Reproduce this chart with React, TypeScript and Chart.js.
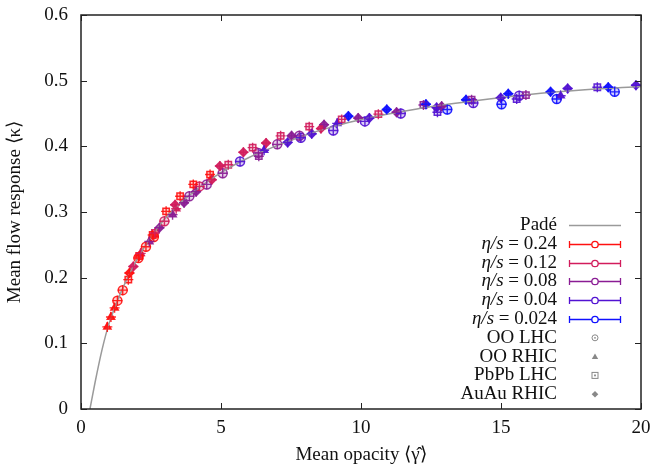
import React, { useEffect, useRef } from "react";
import { Chart, registerables } from "chart.js";

Chart.register(...registerables);

// Padé curve
const padeG = [0.32, 0.5, 0.75, 1.0, 1.5, 2.0, 2.5, 3.0, 3.5, 4.0, 5.0, 6.0, 7.0, 8.0, 9.0, 10.0, 12.0, 14.0, 16.0, 18.0, 20.0];
const padeK = [0.0, 0.04, 0.09, 0.13, 0.185, 0.228, 0.262, 0.29, 0.312, 0.33, 0.36, 0.383, 0.401, 0.417, 0.43, 0.441, 0.457, 0.469, 0.479, 0.486, 0.491];

// systems: C = OO LHC, T = OO RHIC, S = PbPb LHC, D = AuAu RHIC
const g24 = [0.94, 1.07, 1.2, 1.3, 1.49, 1.69, 1.73, 2.05, 2.08, 2.32, 2.56, 2.6, 3.04, 3.54, 4.01, 4.61];
const k24 = [0.125, 0.14, 0.154, 0.165, 0.181, 0.197, 0.207, 0.23, 0.233, 0.247, 0.265, 0.262, 0.301, 0.324, 0.342, 0.357];
const s24 = ["T", "T", "T", "C", "C", "S", "D", "C", "S", "C", "S", "C", "S", "S", "S", "S"];

const g12 = [1.87, 2.13, 2.64, 2.98, 3.36, 3.4, 4.23, 4.67, 4.96, 5.26, 5.8, 6.13, 6.61, 7.13, 8.15, 8.57, 9.31, 10.62];
const k12 = [0.217, 0.237, 0.268, 0.286, 0.311, 0.305, 0.339, 0.349, 0.37, 0.372, 0.391, 0.398, 0.405, 0.416, 0.43, 0.427, 0.441, 0.449];
const s12 = ["D", "T", "S", "C", "D", "T", "C", "D", "D", "S", "D", "S", "D", "S", "S", "D", "S", "S"];

const g08 = [2.44, 2.8, 3.27, 3.68, 3.87, 4.11, 4.49, 5.06, 6.33, 6.35, 7.01, 7.52, 7.8, 8.68, 9.9, 11.27, 12.23, 12.88, 13.95, 15.89];
const k08 = [0.255, 0.276, 0.296, 0.314, 0.324, 0.331, 0.342, 0.359, 0.39, 0.385, 0.403, 0.416, 0.416, 0.433, 0.443, 0.452, 0.463, 0.461, 0.471, 0.478];
const s08 = ["T", "D", "T", "D", "C", "D", "C", "C", "C", "S", "C", "D", "C", "D", "D", "D", "S", "D", "S", "S"];

const g04 = [5.68, 6.54, 7.38, 7.85, 8.24, 9.01, 9.15, 10.14, 10.3, 11.42, 12.7, 12.73, 14.01, 14.99, 15.56, 15.65, 17.13, 17.38, 18.44, 19.82];
const k04 = [0.377, 0.394, 0.406, 0.413, 0.419, 0.424, 0.435, 0.438, 0.443, 0.45, 0.459, 0.452, 0.466, 0.474, 0.472, 0.477, 0.477, 0.488, 0.49, 0.493];
const s04 = ["C", "T", "D", "C", "D", "C", "T", "C", "D", "C", "D", "S", "C", "D", "S", "C", "T", "D", "S", "D"];

const g024 = [9.55, 10.92, 12.32, 13.08, 13.75, 15.02, 15.26, 16.77, 16.99, 18.83, 19.06];
const k024 = [0.446, 0.456, 0.464, 0.456, 0.471, 0.464, 0.48, 0.483, 0.472, 0.49, 0.483];
const s024 = ["D", "D", "D", "C", "D", "C", "D", "D", "C", "D", "C"];

const etaLabels = ["0.24", "0.12", "0.08", "0.04", "0.024"];
const etaColors = ["#ff1010", "#d21c5c", "#8a1c94", "#5212d2", "#1010ff"];
const systemLabels = ["OO LHC", "OO RHIC", "PbPb LHC", "AuAu RHIC"];
const systemCodes = ["C", "T", "S", "D"];

const xTicks = [0, 5, 10, 15, 20];
const yTicks = [0, 0.1, 0.2, 0.3, 0.4, 0.5, 0.6];

const FONT = "Liberation Serif";
const FS = 19;

const styleOf: Record<string, string> = { C: "circle", T: "triangle", S: "rect", D: "rectRot" };

function alpha(hex: string, a: number) {
  const r = parseInt(hex.slice(1, 3), 16);
  const g = parseInt(hex.slice(3, 5), 16);
  const b = parseInt(hex.slice(5, 7), 16);
  return `rgba(${r},${g},${b},${a})`;
}

const frameAndLegend = {
  id: "frameAndLegend",
  afterDatasetsDraw(chart: any) {
    const { ctx } = chart;
    chart.data.datasets.forEach((ds: any, i: number) => {
      if (!ds.isPoints) return;
      const meta = chart.getDatasetMeta(i);
      ctx.save();
      ctx.strokeStyle = ds.borderColor;
      ctx.lineWidth = 1.4;
      meta.data.forEach((p: any) => {
        ctx.beginPath();
        ctx.moveTo(p.x - 5, p.y);
        ctx.lineTo(p.x + 5, p.y);
        ctx.moveTo(p.x, p.y - 5);
        ctx.lineTo(p.x, p.y + 5);
        ctx.stroke();
      });
      ctx.restore();
    });
  },
  afterDraw(chart: any) {
    const { ctx, chartArea: a, scales } = chart;
    ctx.save();
    ctx.strokeStyle = "#222";
    ctx.lineWidth = 1.5;
    ctx.strokeRect(a.left, a.top, a.right - a.left, a.bottom - a.top);
    ctx.lineWidth = 1;
    ctx.beginPath();
    xTicks.forEach((v) => {
      const x = Math.round(scales.x.getPixelForValue(v)) + 0.5;
      ctx.moveTo(x, a.bottom);
      ctx.lineTo(x, a.bottom - 6);
      ctx.moveTo(x, a.top);
      ctx.lineTo(x, a.top + 6);
    });
    yTicks.forEach((v) => {
      const y = Math.round(scales.y.getPixelForValue(v)) + 0.5;
      ctx.moveTo(a.left, y);
      ctx.lineTo(a.left + 6, y);
      ctx.moveTo(a.right, y);
      ctx.lineTo(a.right - 6, y);
    });
    ctx.stroke();

    // legend
    const tx = 557;
    const y0 = 225;
    const step = 18.8;
    const sx = 595;
    ctx.fillStyle = "#111";
    ctx.textBaseline = "middle";
    ctx.textAlign = "right";
    ctx.font = `${FS}px "${FONT}"`;
    ctx.fillText("Padé", tx, y0);
    ctx.strokeStyle = "#9a9a9a";
    ctx.lineWidth = 1.5;
    ctx.beginPath();
    ctx.moveTo(569, y0 + 0.5);
    ctx.lineTo(621, y0 + 0.5);
    ctx.stroke();
    etaLabels.forEach((lab, i) => {
      const y = y0 + step * (i + 1);
      ctx.font = `${FS}px "${FONT}"`;
      const rest = ` = ${lab}`;
      const w = ctx.measureText(rest).width;
      ctx.fillStyle = "#111";
      ctx.fillText(rest, tx, y);
      ctx.font = `italic ${FS}px "${FONT}"`;
      ctx.fillText("η/s", tx - w, y);
      const c = etaColors[i];
      ctx.strokeStyle = c;
      ctx.lineWidth = 1.3;
      const yy = Math.round(y) + 0.5;
      ctx.beginPath();
      ctx.moveTo(569, yy);
      ctx.lineTo(621, yy);
      ctx.moveTo(569.5, yy - 3.5);
      ctx.lineTo(569.5, yy + 3.5);
      ctx.moveTo(620.5, yy - 3.5);
      ctx.lineTo(620.5, yy + 3.5);
      ctx.stroke();
      ctx.beginPath();
      ctx.arc(sx, yy, 3.2, 0, Math.PI * 2);
      ctx.fillStyle = "#fff";
      ctx.fill();
      ctx.stroke();
    });
    systemLabels.forEach((lab, i) => {
      const y = y0 + step * (i + 6);
      ctx.font = `${FS}px "${FONT}"`;
      ctx.fillStyle = "#111";
      ctx.fillText(lab, tx, y);
      const code = systemCodes[i];
      ctx.strokeStyle = "#888";
      ctx.fillStyle = "#888";
      ctx.lineWidth = 1;
      if (code === "C") {
        ctx.beginPath();
        ctx.arc(sx, y, 3, 0, Math.PI * 2);
        ctx.stroke();
        ctx.beginPath();
        ctx.arc(sx, y, 0.9, 0, Math.PI * 2);
        ctx.fill();
      } else if (code === "T") {
        ctx.beginPath();
        ctx.moveTo(sx, y - 3);
        ctx.lineTo(sx + 3.2, y + 2.5);
        ctx.lineTo(sx - 3.2, y + 2.5);
        ctx.closePath();
        ctx.fill();
      } else if (code === "S") {
        ctx.strokeRect(sx - 3, y - 3, 6, 6);
        ctx.fillRect(sx - 0.9, y - 0.9, 1.8, 1.8);
      } else {
        ctx.beginPath();
        ctx.moveTo(sx, y - 3.3);
        ctx.lineTo(sx + 3.3, y);
        ctx.lineTo(sx, y + 3.3);
        ctx.lineTo(sx - 3.3, y);
        ctx.closePath();
        ctx.fill();
      }
    });
    ctx.restore();
  },
};

function pointsDataset(g: number[], k: number[], s: string[], color: string, label: string) {
  return {
    type: "scatter" as const,
    label,
    isPoints: true,
    data: g.map((x, i) => ({ x, y: k[i] })),
    borderColor: alpha(color, 0.9),
    backgroundColor: (ctx: any) => {
      const st = s[ctx.dataIndex];
      return st === "T" || st === "D" ? alpha(color, 0.9) : alpha(color, 0.2);
    },
    pointStyle: (ctx: any) => styleOf[s[ctx.dataIndex]],
    pointRadius: (ctx: any) => {
      const st = s[ctx.dataIndex];
      return st === "D" ? 4.2 : st === "T" ? 4.2 : 4.5;
    },
    pointBorderWidth: 1.5,
    showLine: false,
  };
}

export default function App() {
  const ref = useRef<HTMLCanvasElement | null>(null);
  useEffect(() => {
    document.body.style.margin = "0";
    const canvas = ref.current!;
    const chart = new Chart(canvas, {
      type: "scatter",
      data: {
        datasets: [
          {
            type: "line",
            label: "Padé",
            data: padeG.map((x, i) => ({ x, y: padeK[i] })),
            borderColor: "#9a9a9a",
            borderWidth: 1.5,
            pointRadius: 0,
            cubicInterpolationMode: "monotone",
            fill: false,
          } as any,
          pointsDataset(g24, k24, s24, etaColors[0], "0.24"),
          pointsDataset(g12, k12, s12, etaColors[1], "0.12"),
          pointsDataset(g08, k08, s08, etaColors[2], "0.08"),
          pointsDataset(g04, k04, s04, etaColors[3], "0.04"),
          pointsDataset(g024, k024, s024, etaColors[4], "0.024"),
        ],
      },
      options: {
        animation: false,
        responsive: false,
        devicePixelRatio: 1,
        layout: { padding: { top: 15, right: 11, left: 0, bottom: 0 } },
        plugins: { legend: { display: false }, tooltip: { enabled: false } },
        scales: {
          x: {
            type: "linear",
            min: 0,
            max: 20,
            afterBuildTicks: (sc: any) => {
              sc.ticks = xTicks.map((v) => ({ value: v }));
            },
            ticks: { font: { family: FONT, size: FS }, color: "#111", padding: 8, maxRotation: 0 },
            grid: { display: false, tickLength: 0 },
            border: { display: false },
            title: {
              display: true,
              text: "Mean opacity ⟨γ̂⟩",
              font: { family: FONT, size: FS },
              color: "#111",
              padding: { top: 4, bottom: 0 },
            },
            afterFit: (sc: any) => {
              sc.height = 57;
              sc.paddingLeft = 0;
              sc.paddingRight = 0;
            },
          },
          y: {
            type: "linear",
            min: 0,
            max: 0.6,
            afterBuildTicks: (sc: any) => {
              sc.ticks = yTicks.map((v) => ({ value: v }));
            },
            ticks: {
              font: { family: FONT, size: FS },
              color: "#111",
              padding: 13,
              callback: (v: any) => (v === 0 ? "0" : Number(v).toFixed(1)),
            },
            grid: { display: false, tickLength: 0 },
            border: { display: false },
            title: {
              display: true,
              text: "Mean flow response ⟨κ⟩",
              font: { family: FONT, size: FS },
              color: "#111",
              padding: { top: 4, bottom: 4 },
            },
            afterFit: (sc: any) => {
              sc.width = 81;
              sc.paddingTop = 0;
              sc.paddingBottom = 0;
            },
          },
        },
      } as any,
      plugins: [frameAndLegend],
    });
    return () => chart.destroy();
  }, []);
  return (
    <div style={{ position: "absolute", left: 0, top: 0, width: 652, height: 466 }}>
      <canvas ref={ref} width={652} height={466} style={{ display: "block", width: 652, height: 466 }} />
    </div>
  );
}
